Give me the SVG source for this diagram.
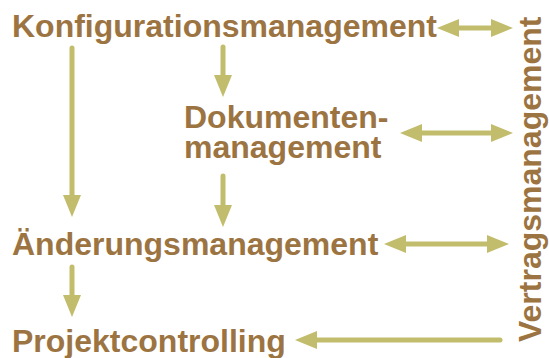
<svg xmlns="http://www.w3.org/2000/svg" width="549" height="358" viewBox="0 0 549 358">
<style>
.t{font-family:"Liberation Sans",Arial,Helvetica,sans-serif;font-weight:bold;font-size:32px;fill:#9C7442}
.c{stroke:#C2BD6C;stroke-width:5;stroke-linecap:round;fill:none}
.e{marker-end:url(#ah)}
.d{marker-start:url(#ah);marker-end:url(#ah)}
</style>
<defs>
<marker id="ah" markerUnits="userSpaceOnUse" markerWidth="24" markerHeight="20" viewBox="0 0 24 20" refX="1" refY="10" orient="auto-start-reverse">
<path d="M0,1 L22,10 L0,19 z" fill="#C2BD6C"/>
</marker>
</defs>
<g id="connectors">
<line class="c d" x1="458" y1="28" x2="492" y2="28"/>
<line class="c d" x1="421" y1="133" x2="492" y2="133"/>
<line class="c d" x1="405" y1="244" x2="488" y2="244"/>
<line class="c e" x1="500" y1="340" x2="316" y2="340"/>
<line class="c e" x1="72" y1="48" x2="72" y2="196"/>
<line class="c e" x1="223" y1="47" x2="223" y2="76"/>
<line class="c e" x1="223" y1="176" x2="223" y2="206"/>
<line class="c e" x1="72" y1="267" x2="72" y2="296"/>
</g>
<g id="konfig"><text class="t" x="12" y="37">Konfigurationsmanagement</text></g>
<g id="dokument"><text class="t"><tspan x="184" y="128">Dokumenten-</tspan><tspan x="184" y="158">management</tspan></text></g>
<g id="aenderung"><text class="t" x="12" y="255">Änderungsmanagement</text></g>
<g id="projekt"><text class="t" x="12" y="352">Projektcontrolling</text></g>
<g id="vertrag"><text class="t" transform="translate(541,342) rotate(-90)">Vertragsmanagement</text></g>
</svg>
